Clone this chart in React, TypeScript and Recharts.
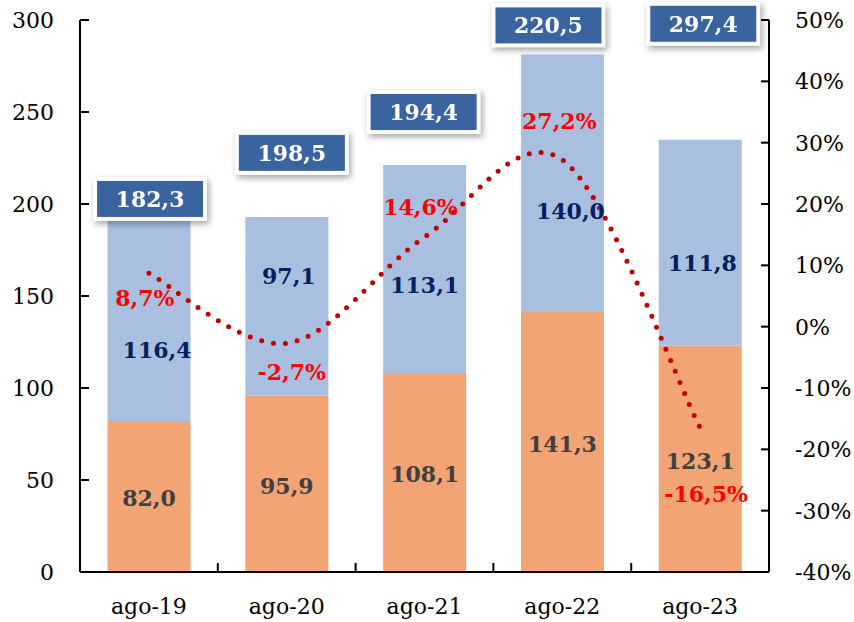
import * as React from "react"
import { ComposedChart, Bar, Line, XAxis, YAxis, LabelList } from "recharts"

const categories = ["ago-19", "ago-20", "ago-21", "ago-22", "ago-23"]
const lowerValues = [82.0, 95.9, 108.1, 141.3, 123.1]
const upperValues = [116.4, 97.1, 113.1, 140.0, 111.8]
const boxValues = [182.3, 198.5, 194.4, 220.5, 297.4]
const growthPct = [8.7, -2.7, 14.6, 27.2, -16.5]
const leftTicks = [0, 50, 100, 150, 200, 250, 300]
const rightTicks = [-40, -30, -20, -10, 0, 10, 20, 30, 40, 50]

// label nudges (px)
const upperLabelShift = [[8, 36], [2, -30], [0, 16], [8, 28], [2, 20]]
const pctLabelShift = [[-4, 25], [5, 29], [-4, -30], [-3, -39], [6, 66]]
const boxShift = [[1, -8], [5, -64], [-1, -53], [-14, -29], [3, -116]]

const data = categories.map((month, i) => ({
  month,
  lower: lowerValues[i],
  upper: upperValues[i],
  box: boxValues[i],
  pct: growthPct[i],
}))

const W = 854
const H = 622
const LEFT = 80
const RIGHT = 769
const BOTTOM = 572
const TOP = 20
const FONT = "'DejaVu Serif', serif"

const fmt = (v: number) => v.toFixed(1).replace(".", ",")

// Excel-like smoothed line (Catmull-Rom)
const smoothCurve: any = (context: any) => {
  let pts: number[][] = []
  return {
    areaStart() {},
    areaEnd() {},
    lineStart() { pts = [] },
    point(x: number, y: number) { pts.push([+x, +y]) },
    lineEnd() {
      const n = pts.length
      if (!n) return
      context.moveTo(pts[0][0], pts[0][1])
      for (let i = 0; i < n - 1; i++) {
        const p0 = pts[Math.max(i - 1, 0)]
        const p1 = pts[i]
        const p2 = pts[i + 1]
        const p3 = pts[Math.min(i + 2, n - 1)]
        context.bezierCurveTo(
          p1[0] + (p2[0] - p0[0]) / 6, p1[1] + (p2[1] - p0[1]) / 6,
          p2[0] - (p3[0] - p1[0]) / 6, p2[1] - (p3[1] - p1[1]) / 6,
          p2[0], p2[1]
        )
      }
    },
  }
}

const box = (props: any) => {
  const r = props.viewBox || props
  const i = props.index
  const cx = r.x + r.width / 2 + boxShift[i][0]
  const cy = r.y + boxShift[i][1]
  const bw = 106
  const bh = 36
  return (
    <g style={{ filter: "drop-shadow(2px 3px 3px rgba(0,0,0,0.35))" }}>
      <rect x={cx - bw / 2 - 4} y={cy - bh / 2 - 4} width={bw + 8} height={bh + 8} fill="#fff" />
      <rect x={cx - bw / 2} y={cy - bh / 2} width={bw} height={bh} fill="#3A64A0" />
      <text x={cx} y={cy} dy="0.36em" textAnchor="middle" fill="#fff"
        fontFamily={FONT} fontWeight="bold" fontSize={22}>{fmt(props.value)}</text>
    </g>
  )
}

const upperLabel = (props: any) => {
  const r = props.viewBox || props
  const i = props.index
  return (
    <text x={r.x + r.width / 2 + upperLabelShift[i][0]} y={r.y + r.height / 2 + upperLabelShift[i][1]}
      dy="0.36em" textAnchor="middle" fill="#002060" fontFamily={FONT} fontWeight="bold" fontSize={22}>
      {fmt(props.value)}
    </text>
  )
}

const lowerLabel = (props: any) => {
  const r = props.viewBox || props
  return (
    <text x={r.x + r.width / 2} y={r.y + r.height / 2 + 2} dy="0.36em" textAnchor="middle"
      fill="#404040" fontFamily={FONT} fontWeight="bold" fontSize={22}>
      {fmt(props.value)}
    </text>
  )
}

const pctLabel = (props: any) => {
  const r = props.viewBox || props
  const i = props.index
  return (
    <text x={r.x + pctLabelShift[i][0]} y={r.y + pctLabelShift[i][1]} dy="0.36em" textAnchor="middle"
      fill="#FF0000" fontFamily={FONT} fontWeight="bold" fontSize={22}>
      {fmt(props.value) + "%"}
    </text>
  )
}

const xTick = (props: any) => {
  const { x, y, payload, index } = props
  const band = (RIGHT - LEFT) / categories.length
  return (
    <g>
      {index > 0 && <line x1={x - band / 2} x2={x - band / 2} y1={y} y2={y - 9} stroke="#000" strokeWidth={2} />}
      <text x={x} y={y + 42} textAnchor="middle" fill="#000" fontFamily={FONT} fontSize={22}>{payload.value}</text>
    </g>
  )
}

const leftTick = (props: any) => {
  const { x, y, payload } = props
  return (
    <g>
      <line x1={LEFT} x2={LEFT + 9} y1={y} y2={y} stroke="#000" strokeWidth={2} />
      <text x={x} y={y} dy="0.36em" textAnchor="end" fill="#000" fontFamily={FONT} fontSize={22}>{payload.value}</text>
    </g>
  )
}

const rightTick = (props: any) => {
  const { x, y, payload } = props
  return (
    <g>
      <line x1={RIGHT} x2={RIGHT - 8} y1={y} y2={y} stroke="#000" strokeWidth={2} />
      <text x={x} y={y} dy="0.36em" textAnchor="start" fill="#000" fontFamily={FONT} fontSize={22}>{payload.value + "%"}</text>
    </g>
  )
}

export default function App() {
  return (
    <div style={{ position: "absolute", left: 0, top: 0, width: W, height: H, background: "#fff" }}>
      <ComposedChart width={W} height={H} data={data} barCategoryGap="20%"
        margin={{ top: TOP, right: 0, bottom: 0, left: 0 }}>
        <XAxis dataKey="month" height={H - BOTTOM} tickSize={0} tickMargin={0} tick={xTick}
          axisLine={{ stroke: "#000", strokeWidth: 2 }} tickLine={false} interval={0} />
        <YAxis yAxisId="left" width={LEFT} domain={[0, 300]} ticks={leftTicks} tickSize={0} tickMargin={26}
          tick={leftTick} axisLine={{ stroke: "#000", strokeWidth: 2 }} tickLine={false} />
        <YAxis yAxisId="right" orientation="right" width={W - RIGHT} domain={[-40, 50]} ticks={rightTicks}
          tickSize={0} tickMargin={26} tick={rightTick} axisLine={{ stroke: "#000", strokeWidth: 2 }} tickLine={false} />
        <Bar yAxisId="left" dataKey="lower" stackId="a" fill="#F2A474" isAnimationActive={false}>
          <LabelList dataKey="lower" content={lowerLabel} />
        </Bar>
        <Bar yAxisId="left" dataKey="upper" stackId="a" fill="#A9BFDF" isAnimationActive={false}>
          <LabelList dataKey="upper" content={upperLabel} />
          <LabelList dataKey="box" content={box} />
        </Bar>
        <Line yAxisId="right" dataKey="pct" type={smoothCurve} stroke="#C00000" strokeWidth={5}
          strokeDasharray="0 12" strokeLinecap="round" dot={false} activeDot={false} isAnimationActive={false}>
          <LabelList dataKey="pct" content={pctLabel} />
        </Line>
      </ComposedChart>
    </div>
  )
}
